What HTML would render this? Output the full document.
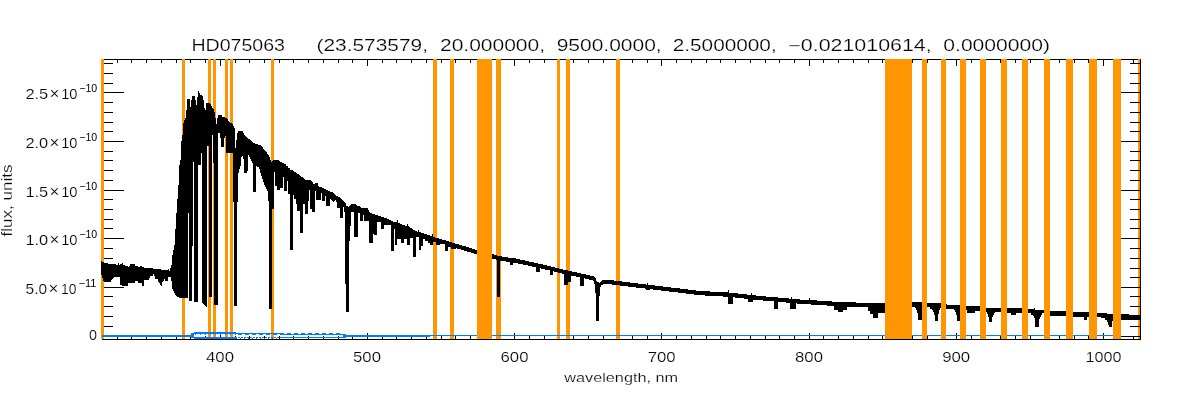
<!DOCTYPE html>
<html lang="en"><head><meta charset="utf-8"><title>HD075063</title>
<style>
html,body{margin:0;padding:0;background:#fff;}
body{width:1200px;height:400px;overflow:hidden;}
svg{display:block;}
text{font-family:'Liberation Sans', sans-serif;fill:#000;stroke:#fff;stroke-width:0.2px;}
</style></head><body>
<svg width="1200" height="400" viewBox="0 0 1200 400">
<rect width="1200" height="400" fill="#fff"/>
<g shape-rendering="crispEdges">
<path fill="#ff9500" d="M101 59h1v202h-1zM101 275h1v64h-1zM102 278h1v57h-1zM102 337h2v2h-2zM102 59h2v203h-2zM103 281h1v54h-1zM182 59h1v76h-1zM183 59h1v64h-1zM182 298h3v37h-3zM182 337h3v2h-3zM184 59h1v61h-1zM208 146h1v186h-1zM208 334h2v3h-2zM208 59h2v44h-2zM209 297h2v35h-2zM210 335h1v2h-1zM210 59h1v45h-1zM213 59h1v50h-1zM213 163h1v169h-1zM213 334h2v3h-2zM214 59h1v53h-1zM214 305h2v27h-2zM215 335h1v2h-1zM215 59h1v59h-1zM225 335h1v2h-1zM225 136h1v196h-1zM225 59h2v59h-2zM226 153h2v179h-2zM226 334h2v3h-2zM227 59h1v60h-1zM230 335h1v2h-1zM230 59h2v64h-2zM230 153h3v179h-3zM231 334h2v3h-2zM232 59h1v65h-1zM271 59h1v103h-1zM271 338h1v1h-1zM271 309h1v24h-1zM271 334h2v3h-2zM272 59h1v102h-1zM272 209h2v124h-2zM273 59h1v101h-1zM273 335h1v4h-1zM433 59h2v178h-2zM433 242h3v93h-3zM433 336h4v3h-4zM435 59h2v179h-2zM436 245h1v90h-1zM450 247h1v88h-1zM450 59h2v183h-2zM450 336h4v3h-4zM451 249h3v86h-3zM452 59h2v184h-2zM477 59h15v280h-15zM496 59h1v196h-1zM496 260h1v75h-1zM497 297h3v38h-3zM496 336h5v3h-5zM497 59h4v197h-4zM500 261h1v74h-1zM557 272h1v63h-1zM557 59h2v209h-2zM557 336h3v3h-3zM558 273h2v62h-2zM559 59h1v210h-1zM566 285h2v50h-2zM566 59h2v211h-2zM566 336h4v3h-4zM568 282h2v53h-2zM568 59h2v212h-2zM616 285h4v50h-4zM616 59h4v222h-4zM616 336h4v3h-4zM885 59h27v280h-27zM922 59h5v280h-5zM941 59h5v280h-5zM960 59h6v280h-6zM980 59h6v280h-6zM1001 59h6v280h-6zM1022 59h6v280h-6zM1044 59h6v280h-6zM1066 59h7v280h-7zM1089 59h8v280h-8zM1113 59h8v280h-8zM1138 93h2v9h-2zM1138 249h2v9h-2zM1138 307h2v8h-2zM1138 220h2v8h-2zM1138 171h2v9h-2zM1138 181h2v9h-2zM1138 103h2v9h-2zM1138 152h2v8h-2zM1138 259h2v9h-2zM1138 278h2v9h-2zM1138 200h2v9h-2zM1138 59h2v4h-2zM1138 84h2v8h-2zM1138 320h2v6h-2zM1138 337h2v2h-2zM1138 113h2v9h-2zM1138 297h2v9h-2zM1138 210h2v9h-2zM1138 132h2v9h-2zM1138 64h2v9h-2zM1138 269h2v8h-2zM1138 229h2v9h-2zM1138 239h2v9h-2zM1138 142h2v9h-2zM1138 191h2v8h-2zM1138 161h2v9h-2zM1138 123h2v8h-2zM1138 74h2v9h-2zM1138 288h2v8h-2zM1138 327h2v9h-2z"/>
<path fill="#000000" d="M101 261h1v14h-1zM102 262h1v16h-1zM103 262h1v19h-1zM104 263h4v19h-4zM108 264h3v18h-3zM111 264h1v16h-1zM104 306h9v1h-9zM104 209h9v1h-9zM104 219h9v1h-9zM104 228h9v1h-9zM104 316h9v1h-9zM104 151h9v1h-9zM104 63h9v1h-9zM104 160h9v1h-9zM104 73h9v1h-9zM104 248h9v1h-9zM104 170h9v1h-9zM104 83h9v1h-9zM104 326h9v1h-9zM104 102h9v1h-9zM104 258h9v1h-9zM104 180h9v1h-9zM104 199h9v1h-9zM104 112h9v1h-9zM104 122h9v1h-9zM104 131h9v1h-9zM104 296h9v1h-9zM112 264h1v15h-1zM113 264h1v14h-1zM114 264h2v13h-2zM102 339h15v1h-15zM104 59h13v1h-13zM116 265h2v12h-2zM117 59h1v4h-1zM117 337h1v3h-1zM118 263h1v14h-1zM119 265h1v12h-1zM120 264h2v21h-2zM122 263h1v23h-1zM104 141h20v1h-20zM104 238h20v1h-20zM104 92h20v1h-20zM104 190h20v1h-20zM104 287h20v1h-20zM123 265h2v21h-2zM125 266h3v20h-3zM128 267h1v16h-1zM129 266h1v17h-1zM118 59h13v1h-13zM118 339h13v1h-13zM131 337h1v3h-1zM131 59h1v4h-1zM130 264h5v19h-5zM135 266h3v15h-3zM138 267h2v16h-2zM140 266h2v17h-2zM142 267h2v19h-2zM132 339h14v1h-14zM132 59h14v1h-14zM146 337h1v3h-1zM146 59h1v4h-1zM144 268h5v12h-5zM149 268h1v10h-1zM150 268h3v8h-3zM153 269h1v5h-1zM154 269h1v7h-1zM155 269h3v10h-3zM158 269h1v13h-1zM159 269h1v14h-1zM147 339h14v1h-14zM147 59h14v1h-14zM160 269h1v16h-1zM161 270h1v16h-1zM161 337h1v3h-1zM161 59h1v4h-1zM162 270h1v12h-1zM163 270h1v11h-1zM164 270h1v9h-1zM165 270h3v11h-3zM168 269h1v8h-1zM169 271h1v6h-1zM170 268h1v9h-1zM171 265h1v16h-1zM172 255h1v34h-1zM173 250h1v41h-1zM174 245h1v48h-1zM162 339h14v1h-14zM162 59h14v1h-14zM175 229h1v66h-1zM176 213h1v83h-1zM176 337h1v3h-1zM176 59h1v4h-1zM177 199h1v98h-1zM178 185h1v112h-1zM179 165h1v133h-1zM180 160h1v138h-1zM177 59h5v1h-5zM181 141h1v157h-1zM182 135h1v163h-1zM183 123h1v175h-1zM184 120h1v178h-1zM185 118h1v180h-1zM186 110h1v188h-1zM187 99h1v199h-1zM188 99h1v114h-1zM177 339h13v1h-13zM185 59h5v1h-5zM189 99h1v202h-1zM190 337h1v3h-1zM190 107h1v194h-1zM190 59h1v4h-1zM191 100h1v201h-1zM192 96h1v150h-1zM193 96h1v66h-1zM194 96h1v206h-1zM195 100h1v202h-1zM196 105h1v197h-1zM197 97h1v205h-1zM198 91h1v74h-1zM199 93h1v72h-1zM200 95h1v70h-1zM201 95h1v58h-1zM202 96h1v207h-1zM203 100h1v204h-1zM191 59h14v1h-14zM204 108h1v197h-1zM205 336h1v1h-1zM205 110h1v196h-1zM205 59h1v4h-1zM206 103h1v204h-1zM206 59h2v1h-2zM207 103h2v43h-2zM209 103h1v194h-1zM210 104h1v193h-1zM211 106h1v191h-1zM211 59h2v1h-2zM212 108h1v27h-1zM213 109h1v54h-1zM214 112h1v193h-1zM215 118h1v187h-1zM216 124h1v181h-1zM217 118h1v187h-1zM216 59h4v1h-4zM218 115h2v18h-2zM220 335h1v2h-1zM220 59h1v7h-1zM220 115h1v23h-1zM221 115h1v32h-1zM222 117h2v30h-2zM221 59h4v1h-4zM224 117h1v21h-1zM225 118h1v18h-1zM226 118h1v35h-1zM227 119h1v34h-1zM228 121h1v32h-1zM228 59h2v1h-2zM229 122h1v31h-1zM230 123h2v30h-2zM232 124h1v29h-1zM233 126h1v76h-1zM233 59h2v1h-2zM234 128h1v178h-1zM235 336h1v1h-1zM235 148h1v158h-1zM235 59h1v4h-1zM236 140h1v166h-1zM237 133h1v69h-1zM238 131h1v42h-1zM239 131h1v38h-1zM240 131h1v35h-1zM241 131h1v26h-1zM242 131h1v25h-1zM243 133h1v26h-1zM244 135h1v38h-1zM245 136h1v37h-1zM246 137h1v36h-1zM247 138h1v33h-1zM191 339h58v1h-58zM236 59h13v1h-13zM248 139h1v16h-1zM249 336h1v4h-1zM249 139h1v18h-1zM249 59h1v4h-1zM250 140h1v19h-1zM251 141h1v20h-1zM252 142h1v21h-1zM253 143h2v49h-2zM255 144h1v48h-1zM256 144h1v22h-1zM257 144h1v23h-1zM258 145h1v22h-1zM259 145h1v24h-1zM260 145h1v28h-1zM261 146h1v30h-1zM262 147h1v32h-1zM250 59h14v1h-14zM263 149h1v33h-1zM264 150h1v35h-1zM264 336h1v2h-1zM264 59h1v4h-1zM265 151h1v36h-1zM266 152h1v37h-1zM267 154h1v37h-1zM268 155h1v46h-1zM269 157h1v152h-1zM265 59h6v1h-6zM270 160h1v149h-1zM271 162h1v147h-1zM272 161h1v48h-1zM273 160h1v49h-1zM274 160h1v12h-1zM275 160h2v26h-2zM250 339h29v1h-29zM274 59h5v1h-5zM277 160h2v30h-2zM279 336h1v4h-1zM279 161h1v29h-1zM279 59h1v4h-1zM280 162h2v26h-2zM282 163h1v25h-1zM283 163h1v14h-1zM284 164h2v27h-2zM286 166h1v25h-1zM287 166h1v15h-1zM288 168h2v26h-2zM280 339h13v1h-13zM280 59h13v1h-13zM290 170h3v80h-3zM293 336h1v1h-1zM293 171h1v24h-1zM293 338h1v2h-1zM293 59h1v4h-1zM294 172h2v27h-2zM296 173h1v31h-1zM297 174h2v37h-2zM299 175h1v36h-1zM300 176h1v57h-1zM301 177h2v56h-2zM303 178h1v26h-1zM304 179h1v25h-1zM294 339h14v1h-14zM294 59h14v1h-14zM305 180h3v34h-3zM308 336h1v1h-1zM308 180h1v21h-1zM308 338h1v2h-1zM308 59h1v4h-1zM309 180h1v10h-1zM310 180h1v29h-1zM311 181h1v28h-1zM312 182h1v30h-1zM313 184h2v28h-2zM315 183h1v8h-1zM316 183h2v17h-2zM318 186h1v14h-1zM319 187h2v13h-2zM321 187h1v6h-1zM309 339h14v1h-14zM309 59h14v1h-14zM322 188h2v13h-2zM323 336h1v1h-1zM323 338h1v2h-1zM323 59h1v4h-1zM324 189h1v12h-1zM325 189h1v7h-1zM326 190h2v16h-2zM328 191h2v15h-2zM330 192h1v7h-1zM331 192h1v8h-1zM332 192h1v9h-1zM333 193h1v9h-1zM334 194h1v7h-1zM335 195h1v5h-1zM336 196h1v6h-1zM324 339h14v1h-14zM324 59h14v1h-14zM337 196h1v12h-1zM338 336h1v1h-1zM338 338h1v2h-1zM338 59h1v4h-1zM338 197h2v11h-2zM340 198h1v20h-1zM341 199h1v19h-1zM342 200h1v18h-1zM343 201h1v6h-1zM344 202h1v10h-1zM345 203h1v81h-1zM346 206h2v106h-2zM348 207h1v105h-1zM349 206h1v35h-1zM350 205h1v21h-1zM339 339h13v1h-13zM339 59h13v1h-13zM352 337h1v3h-1zM352 59h1v4h-1zM351 204h3v8h-3zM354 204h2v33h-2zM356 205h1v32h-1zM357 206h1v31h-1zM358 206h2v7h-2zM360 207h1v14h-1zM361 208h2v13h-2zM363 208h1v7h-1zM353 339h14v1h-14zM353 59h14v1h-14zM364 208h4v13h-4zM367 333h1v2h-1zM367 59h1v7h-1zM367 337h1v3h-1zM368 210h1v11h-1zM369 212h1v31h-1zM370 213h2v30h-2zM372 214h1v29h-1zM373 214h1v20h-1zM374 214h1v21h-1zM375 215h2v20h-2zM377 215h1v7h-1zM378 216h3v6h-3zM368 339h14v1h-14zM368 59h14v1h-14zM382 337h1v3h-1zM382 59h1v4h-1zM381 217h3v12h-3zM384 218h3v7h-3zM387 219h2v6h-2zM389 220h2v5h-2zM391 221h2v30h-2zM393 222h1v29h-1zM394 222h1v7h-1zM383 339h13v1h-13zM383 59h13v1h-13zM395 222h2v23h-2zM396 337h1v3h-1zM396 59h1v4h-1zM397 220h1v19h-1zM398 223h2v16h-2zM400 224h1v15h-1zM401 224h1v19h-1zM402 225h2v18h-2zM404 225h1v14h-1zM405 226h2v13h-2zM407 224h1v21h-1zM408 226h1v19h-1zM409 227h1v18h-1zM397 339h14v1h-14zM397 59h14v1h-14zM410 228h2v10h-2zM411 337h1v3h-1zM411 59h1v4h-1zM412 229h1v9h-1zM413 230h2v27h-2zM415 231h1v26h-1zM416 231h1v6h-1zM417 232h1v5h-1zM418 230h1v7h-1zM419 232h2v18h-2zM421 233h2v13h-2zM423 233h1v6h-1zM424 234h1v5h-1zM412 339h14v1h-14zM412 59h14v1h-14zM425 234h2v7h-2zM426 337h1v3h-1zM426 59h1v4h-1zM427 235h1v6h-1zM428 235h2v8h-2zM430 236h2v9h-2zM427 59h6v1h-6zM432 234h1v11h-1zM433 237h2v5h-2zM435 238h1v4h-1zM436 238h3v7h-3zM439 239h1v6h-1zM427 339h14v1h-14zM437 59h4v1h-4zM440 239h2v5h-2zM441 336h1v4h-1zM441 59h1v4h-1zM442 240h3v4h-3zM445 240h1v11h-1zM446 241h2v10h-2zM448 241h1v6h-1zM442 59h8v1h-8zM449 242h2v5h-2zM451 242h1v7h-1zM442 339h13v1h-13zM452 243h3v6h-3zM454 59h1v1h-1zM455 244h1v5h-1zM455 336h1v4h-1zM455 59h1v4h-1zM456 244h1v4h-1zM457 244h2v5h-2zM459 245h2v4h-2zM461 245h1v5h-1zM462 246h2v4h-2zM464 246h2v5h-2zM466 247h1v4h-1zM467 247h2v5h-2zM456 339h14v1h-14zM456 59h14v1h-14zM469 248h2v4h-2zM470 336h1v4h-1zM470 59h1v4h-1zM471 248h1v5h-1zM472 249h2v4h-2zM474 249h1v5h-1zM471 59h6v1h-6zM475 250h2v4h-2zM492 254h2v5h-2zM492 59h4v1h-4zM494 255h2v4h-2zM496 255h1v5h-1zM497 256h3v41h-3zM500 256h2v5h-2zM502 257h4v4h-4zM506 257h2v5h-2zM508 258h2v4h-2zM510 258h3v7h-3zM471 339h43v1h-43zM501 59h13v1h-13zM514 333h1v2h-1zM514 59h1v7h-1zM514 336h1v4h-1zM513 258h3v5h-3zM516 259h2v4h-2zM518 259h2v5h-2zM520 260h3v4h-3zM523 260h2v5h-2zM525 261h3v4h-3zM515 339h14v1h-14zM515 59h14v1h-14zM528 261h1v5h-1zM529 336h1v4h-1zM529 59h1v4h-1zM529 262h3v4h-3zM532 262h2v5h-2zM534 263h2v4h-2zM536 263h2v9h-2zM538 264h2v8h-2zM540 264h1v4h-1zM541 264h2v5h-2zM530 339h14v1h-14zM530 59h14v1h-14zM543 265h2v4h-2zM544 336h1v4h-1zM544 59h1v4h-1zM545 265h2v5h-2zM547 266h3v4h-3zM550 266h1v9h-1zM551 267h2v8h-2zM553 267h1v4h-1zM554 267h1v5h-1zM545 59h12v1h-12zM555 268h3v4h-3zM558 268h1v5h-1zM559 269h3v4h-3zM562 269h1v5h-1zM563 270h1v4h-1zM560 59h6v1h-6zM564 270h4v15h-4zM568 271h3v11h-3zM571 271h1v5h-1zM545 339h28v1h-28zM570 59h3v1h-3zM573 336h1v4h-1zM573 59h1v4h-1zM572 272h4v4h-4zM576 272h1v5h-1zM577 273h3v4h-3zM580 273h1v13h-1zM581 274h3v12h-3zM584 274h1v4h-1zM585 274h1v5h-1zM574 339h14v1h-14zM574 59h14v1h-14zM586 275h3v4h-3zM588 336h1v4h-1zM588 59h1v4h-1zM589 275h1v5h-1zM590 276h3v4h-3zM593 276h1v5h-1zM594 277h1v7h-1zM595 278h1v15h-1zM596 281h1v40h-1zM597 282h2v39h-2zM599 283h1v13h-1zM600 282h1v5h-1zM601 281h1v4h-1zM589 339h14v1h-14zM589 59h14v1h-14zM602 280h1v5h-1zM603 336h1v4h-1zM603 59h1v4h-1zM603 280h9v4h-9zM612 280h2v5h-2zM604 59h12v1h-12zM614 281h6v4h-6zM620 281h2v5h-2zM622 282h6v4h-6zM628 282h2v5h-2zM604 339h28v1h-28zM620 59h12v1h-12zM632 336h1v4h-1zM632 59h1v4h-1zM630 283h6v4h-6zM636 283h2v5h-2zM638 284h7v4h-7zM645 284h1v5h-1zM633 339h14v1h-14zM633 59h14v1h-14zM646 285h1v5h-1zM647 336h1v4h-1zM647 283h1v7h-1zM647 59h1v4h-1zM648 285h2v5h-2zM650 285h3v4h-3zM653 285h2v5h-2zM648 339h13v1h-13zM648 59h13v1h-13zM655 286h6v4h-6zM661 333h1v2h-1zM661 336h1v4h-1zM661 59h1v7h-1zM661 286h2v5h-2zM663 287h6v4h-6zM669 287h2v5h-2zM662 339h14v1h-14zM662 59h14v1h-14zM676 336h1v4h-1zM676 59h1v4h-1zM671 288h7v4h-7zM678 288h2v5h-2zM680 289h6v4h-6zM686 289h2v5h-2zM677 339h14v1h-14zM677 59h14v1h-14zM691 336h1v4h-1zM691 59h1v4h-1zM688 290h6v4h-6zM694 290h2v5h-2zM696 291h9v4h-9zM692 339h14v1h-14zM692 59h14v1h-14zM706 336h1v4h-1zM706 59h1v4h-1zM705 291h5v5h-5zM707 339h13v1h-13zM707 59h13v1h-13zM720 336h1v4h-1zM720 59h1v4h-1zM710 292h13v4h-13zM723 292h5v5h-5zM728 290h1v14h-1zM729 293h4v11h-4zM721 339h14v1h-14zM721 59h14v1h-14zM733 293h2v4h-2zM735 336h1v4h-1zM735 59h1v4h-1zM735 293h3v5h-3zM738 294h6v4h-6zM744 294h3v5h-3zM747 295h1v4h-1zM736 339h14v1h-14zM736 59h14v1h-14zM748 295h3v7h-3zM750 336h1v4h-1zM750 59h1v4h-1zM751 293h1v9h-1zM752 295h1v7h-1zM753 295h3v5h-3zM756 296h7v4h-7zM751 339h14v1h-14zM751 59h14v1h-14zM763 296h3v5h-3zM765 336h1v4h-1zM765 59h1v4h-1zM766 297h8v4h-8zM774 297h4v12h-4zM766 339h13v1h-13zM766 59h13v1h-13zM779 336h1v4h-1zM779 59h1v4h-1zM778 298h8v4h-8zM786 298h3v5h-3zM789 299h1v4h-1zM790 299h1v10h-1zM791 297h1v12h-1zM780 339h14v1h-14zM780 59h14v1h-14zM794 336h1v4h-1zM794 59h1v4h-1zM792 299h4v10h-4zM796 299h1v4h-1zM797 299h3v5h-3zM795 339h14v1h-14zM795 59h14v1h-14zM800 300h9v4h-9zM809 333h1v2h-1zM809 59h1v7h-1zM809 298h1v6h-1zM809 336h1v4h-1zM810 300h1v4h-1zM811 300h6v5h-6zM810 339h13v1h-13zM810 59h13v1h-13zM823 336h1v4h-1zM823 59h1v4h-1zM817 301h10v4h-10zM827 301h5v5h-5zM832 302h2v4h-2zM824 339h14v1h-14zM824 59h14v1h-14zM834 302h4v8h-4zM838 336h1v4h-1zM838 59h1v4h-1zM838 302h5v10h-5zM843 302h4v8h-4zM839 339h14v1h-14zM839 59h14v1h-14zM853 336h1v4h-1zM853 59h1v4h-1zM847 302h9v5h-9zM854 339h14v1h-14zM854 59h14v1h-14zM856 303h12v4h-12zM868 336h1v4h-1zM868 59h1v4h-1zM868 303h2v8h-2zM870 303h3v11h-3zM873 303h5v15h-5zM869 339h13v1h-13zM869 59h13v1h-13zM882 336h1v4h-1zM882 59h1v4h-1zM878 303h7v10h-7zM883 59h2v1h-2zM883 339h29v1h-29zM912 336h1v4h-1zM912 59h1v4h-1zM912 302h3v5h-3zM915 302h1v6h-1zM916 302h1v8h-1zM917 302h1v11h-1zM913 59h9v1h-9zM918 302h4v18h-4zM913 339h14v1h-14zM927 336h1v4h-1zM927 59h1v4h-1zM927 303h3v4h-3zM930 303h2v6h-2zM932 303h1v7h-1zM933 303h1v9h-1zM934 303h1v12h-1zM935 303h3v18h-3zM938 303h1v11h-1zM939 303h1v7h-1zM928 59h13v1h-13zM940 303h1v5h-1zM946 304h1v5h-1zM947 305h7v4h-7zM954 305h1v5h-1zM928 339h28v1h-28zM946 59h10v1h-10zM955 305h1v7h-1zM956 333h1v2h-1zM956 305h1v10h-1zM956 59h1v7h-1zM956 336h1v4h-1zM957 59h3v1h-3zM957 305h3v16h-3zM966 306h1v4h-1zM957 339h14v1h-14zM966 59h5v1h-5zM971 336h1v4h-1zM971 59h1v4h-1zM967 306h8v7h-8zM972 59h8v1h-8zM975 306h5v5h-5zM986 308h1v4h-1zM987 308h1v6h-1zM988 308h1v9h-1zM989 308h3v14h-3zM992 308h1v9h-1zM993 308h1v7h-1zM994 308h1v5h-1zM972 339h28v1h-28zM986 59h14v1h-14zM995 308h6v4h-6zM1000 336h1v4h-1zM1000 59h1v4h-1zM1007 308h4v5h-4zM1001 339h14v1h-14zM1007 59h8v1h-8zM1011 308h5v7h-5zM1015 336h1v4h-1zM1015 59h1v4h-1zM1016 59h6v1h-6zM1016 308h6v5h-6zM1016 339h14v1h-14zM1028 59h2v1h-2zM1028 309h3v4h-3zM1030 336h1v4h-1zM1030 59h1v4h-1zM1031 309h2v6h-2zM1033 309h1v7h-1zM1034 308h1v10h-1zM1035 310h4v17h-4zM1039 310h1v9h-1zM1040 310h1v7h-1zM1041 310h1v5h-1zM1031 59h13v1h-13zM1042 310h2v3h-2zM1031 339h28v1h-28zM1050 59h9v1h-9zM1059 336h1v4h-1zM1059 59h1v4h-1zM1050 311h16v5h-16zM1060 59h6v1h-6zM1060 339h14v1h-14zM1073 59h1v1h-1zM1074 336h1v4h-1zM1074 59h1v4h-1zM1073 312h11v5h-11zM1084 312h3v8h-3zM1075 339h13v1h-13zM1075 59h13v1h-13zM1087 312h2v5h-2zM1088 336h1v4h-1zM1088 59h1v4h-1zM1097 313h4v4h-4zM1089 339h14v1h-14zM1097 59h6v1h-6zM1103 333h1v2h-1zM1103 59h1v7h-1zM1103 336h1v4h-1zM1101 313h4v5h-4zM1105 313h2v7h-2zM1107 314h1v8h-1zM1108 314h1v11h-1zM1109 314h3v13h-3zM1104 59h9v1h-9zM1112 314h1v7h-1zM1121 314h8v6h-8zM1104 339h29v1h-29zM1121 59h12v1h-12zM1121 336h12v1h-12zM1130 63h3v1h-3zM1133 59h1v5h-1zM1133 336h1v4h-1zM1134 59h4v1h-4zM1121 238h19v1h-19zM1121 190h19v1h-19zM1121 92h19v1h-19zM1121 141h19v1h-19zM1121 287h19v1h-19zM1129 315h11v5h-11zM1130 306h10v1h-10zM1130 209h10v1h-10zM1130 219h10v1h-10zM1130 228h10v1h-10zM1130 151h10v1h-10zM1130 160h10v1h-10zM1130 73h10v1h-10zM1130 248h10v1h-10zM1130 170h10v1h-10zM1130 83h10v1h-10zM1130 326h10v1h-10zM1130 102h10v1h-10zM1130 258h10v1h-10zM1130 268h10v1h-10zM1130 180h10v1h-10zM1130 277h10v1h-10zM1130 199h10v1h-10zM1130 112h10v1h-10zM1130 122h10v1h-10zM1130 131h10v1h-10zM1130 296h10v1h-10zM1134 339h6v1h-6zM1134 63h6v1h-6zM1134 336h6v1h-6zM1140 59h1v281h-1z"/>
<path fill="#007cff" d="M102 335h89v2h-89zM191 333h3v5h-3zM194 332h1v2h-1zM195 332h1v3h-1zM196 332h4v2h-4zM200 332h1v3h-1zM201 332h4v2h-4zM205 332h1v3h-1zM206 332h4v2h-4zM210 332h1v3h-1zM211 332h4v2h-4zM215 332h1v3h-1zM216 332h4v2h-4zM220 332h1v3h-1zM221 332h4v2h-4zM225 332h1v3h-1zM226 332h4v2h-4zM230 332h1v3h-1zM231 332h4v2h-4zM235 332h1v3h-1zM194 337h43v2h-43zM236 333h2v1h-2zM238 337h2v1h-2zM240 338h1v1h-1zM238 333h4v2h-4zM241 337h2v1h-2zM242 333h3v1h-3zM244 337h1v2h-1zM245 337h1v1h-1zM247 337h1v1h-1zM245 333h4v2h-4zM248 337h1v2h-1zM249 333h3v1h-3zM250 337h2v1h-2zM252 338h1v1h-1zM253 337h2v1h-2zM252 333h4v2h-4zM256 337h1v2h-1zM257 337h1v1h-1zM256 333h3v1h-3zM259 337h1v1h-1zM260 337h1v2h-1zM259 333h4v2h-4zM262 337h2v1h-2zM264 338h1v1h-1zM263 333h3v1h-3zM265 337h2v1h-2zM268 337h1v2h-1zM266 333h4v2h-4zM269 337h1v1h-1zM271 337h1v1h-1zM270 333h3v1h-3zM272 337h1v2h-1zM274 337h2v1h-2zM273 333h4v2h-4zM276 338h1v1h-1zM277 337h2v1h-2zM277 333h3v1h-3zM280 333h4v2h-4zM284 334h3v1h-3zM287 333h4v2h-4zM291 334h3v1h-3zM294 333h4v2h-4zM298 334h3v1h-3zM301 333h4v2h-4zM305 334h3v1h-3zM308 333h4v2h-4zM312 334h3v1h-3zM315 333h4v2h-4zM319 334h3v1h-3zM322 333h4v2h-4zM326 334h3v1h-3zM329 333h4v2h-4zM333 334h3v1h-3zM336 333h4v2h-4zM280 337h63v1h-63zM340 334h3v1h-3zM343 334h3v4h-3zM346 335h84v2h-84zM430 335h47v1h-47zM492 335h393v1h-393zM912 335h10v1h-10zM927 335h14v1h-14zM946 335h14v1h-14zM966 335h14v1h-14zM986 335h15v1h-15zM1007 335h15v1h-15zM1028 335h16v1h-16zM1050 335h16v1h-16zM1073 335h16v1h-16zM1097 335h16v1h-16z"/>
</g>
<g>
<text x="191.5" y="50.5" font-size="16.0" text-anchor="start" textLength="93.5" lengthAdjust="spacingAndGlyphs">HD075063</text>
<text x="316.5" y="50.5" font-size="16.0" text-anchor="start" textLength="111.5" lengthAdjust="spacingAndGlyphs">(23.573579,</text>
<text x="440.0" y="50.5" font-size="16.0" text-anchor="start" textLength="105.0" lengthAdjust="spacingAndGlyphs">20.000000,</text>
<text x="556.7" y="50.5" font-size="16.0" text-anchor="start" textLength="105.0" lengthAdjust="spacingAndGlyphs">9500.0000,</text>
<text x="672.7" y="50.5" font-size="16.0" text-anchor="start" textLength="104.0" lengthAdjust="spacingAndGlyphs">2.5000000,</text>
<text x="788.3" y="50.5" font-size="16.0" text-anchor="start" textLength="143.4" lengthAdjust="spacingAndGlyphs">−0.021010614,</text>
<text x="943.3" y="50.5" font-size="16.0" text-anchor="start" textLength="106.7" lengthAdjust="spacingAndGlyphs">0.0000000)</text>
<text x="206.0" y="362.0" font-size="14.0" text-anchor="start" textLength="28.0" lengthAdjust="spacingAndGlyphs">400</text>
<text x="353.0" y="362.0" font-size="14.0" text-anchor="start" textLength="28.0" lengthAdjust="spacingAndGlyphs">500</text>
<text x="500.5" y="362.0" font-size="14.0" text-anchor="start" textLength="28.0" lengthAdjust="spacingAndGlyphs">600</text>
<text x="647.7" y="362.0" font-size="14.0" text-anchor="start" textLength="28.0" lengthAdjust="spacingAndGlyphs">700</text>
<text x="795.0" y="362.0" font-size="14.0" text-anchor="start" textLength="28.0" lengthAdjust="spacingAndGlyphs">800</text>
<text x="942.2" y="362.0" font-size="14.0" text-anchor="start" textLength="28.0" lengthAdjust="spacingAndGlyphs">900</text>
<text x="1085.5" y="362.0" font-size="14.0" text-anchor="start" textLength="36.0" lengthAdjust="spacingAndGlyphs">1000</text>
<text x="564.2" y="382.0" font-size="13.5" text-anchor="start" textLength="114.0" lengthAdjust="spacingAndGlyphs">wavelength, nm</text>
<text x="25.4" y="99.0" font-size="14.5" text-anchor="start" textLength="22.8" lengthAdjust="spacingAndGlyphs">2.5</text>
<text x="54.5" y="99.3" font-size="17.0" text-anchor="middle">×</text>
<text x="61.2" y="99.0" font-size="14.5" text-anchor="start" textLength="16.3" lengthAdjust="spacingAndGlyphs">10</text>
<text x="79.2" y="92.0" font-size="10.5" text-anchor="start" textLength="18.0" lengthAdjust="spacingAndGlyphs" style="stroke:none">−10</text>
<text x="25.4" y="148.0" font-size="14.5" text-anchor="start" textLength="22.8" lengthAdjust="spacingAndGlyphs">2.0</text>
<text x="54.5" y="148.3" font-size="17.0" text-anchor="middle">×</text>
<text x="61.2" y="148.0" font-size="14.5" text-anchor="start" textLength="16.3" lengthAdjust="spacingAndGlyphs">10</text>
<text x="79.2" y="141.0" font-size="10.5" text-anchor="start" textLength="18.0" lengthAdjust="spacingAndGlyphs" style="stroke:none">−10</text>
<text x="25.4" y="197.0" font-size="14.5" text-anchor="start" textLength="22.8" lengthAdjust="spacingAndGlyphs">1.5</text>
<text x="54.5" y="197.3" font-size="17.0" text-anchor="middle">×</text>
<text x="61.2" y="197.0" font-size="14.5" text-anchor="start" textLength="16.3" lengthAdjust="spacingAndGlyphs">10</text>
<text x="79.2" y="190.0" font-size="10.5" text-anchor="start" textLength="18.0" lengthAdjust="spacingAndGlyphs" style="stroke:none">−10</text>
<text x="25.4" y="245.0" font-size="14.5" text-anchor="start" textLength="22.8" lengthAdjust="spacingAndGlyphs">1.0</text>
<text x="54.5" y="245.3" font-size="17.0" text-anchor="middle">×</text>
<text x="61.2" y="245.0" font-size="14.5" text-anchor="start" textLength="16.3" lengthAdjust="spacingAndGlyphs">10</text>
<text x="79.2" y="238.0" font-size="10.5" text-anchor="start" textLength="18.0" lengthAdjust="spacingAndGlyphs" style="stroke:none">−10</text>
<text x="25.6" y="294.0" font-size="14.5" text-anchor="start" textLength="21.5" lengthAdjust="spacingAndGlyphs">5.0</text>
<text x="53.5" y="294.3" font-size="17.0" text-anchor="middle">×</text>
<text x="61.0" y="294.0" font-size="14.5" text-anchor="start" textLength="15.5" lengthAdjust="spacingAndGlyphs">10</text>
<text x="78.5" y="287.0" font-size="10.5" text-anchor="start" textLength="18.0" lengthAdjust="spacingAndGlyphs" style="stroke:none">−11</text>
<text x="89.0" y="339.8" font-size="14.5" text-anchor="start" textLength="8.0" lengthAdjust="spacingAndGlyphs">0</text>
<text transform="translate(11.5,236.5) rotate(-90)" font-size="14" textLength="72" lengthAdjust="spacingAndGlyphs">flux, units</text>
</g>
</svg>
</body></html>
